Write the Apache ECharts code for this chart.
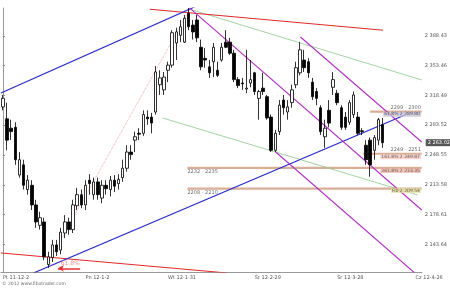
<!DOCTYPE html>
<html><head><meta charset="utf-8">
<script src="https://cdn.jsdelivr.net/npm/echarts@6/dist/echarts.min.js"></script>
<style>html,body{margin:0;padding:0;background:#fff}#c{width:450px;height:289px}</style>
</head><body><div id="c"></div>
<script>
// trading days (yy-m-d)
const dates = ['11-12-2','11-12-5','11-12-6','11-12-7','11-12-8','11-12-9','11-12-12','11-12-13','11-12-14','11-12-15','11-12-16','11-12-19','11-12-20','11-12-21','11-12-22','11-12-23','11-12-27','11-12-28','11-12-29','11-12-30',
'12-1-2','12-1-3','12-1-4','12-1-5','12-1-9','12-1-10','12-1-11','12-1-12','12-1-13','12-1-16','12-1-17','12-1-18','12-1-19','12-1-20','12-1-23','12-1-24','12-1-25','12-1-26','12-1-27','12-1-30','12-1-31',
'12-2-1','12-2-2','12-2-3','12-2-6','12-2-7','12-2-8','12-2-9','12-2-10','12-2-13','12-2-14','12-2-15','12-2-16','12-2-17','12-2-20','12-2-21','12-2-22','12-2-23','12-2-24','12-2-27','12-2-28','12-2-29',
'12-3-1','12-3-2','12-3-5','12-3-6','12-3-7','12-3-8','12-3-9','12-3-12','12-3-13','12-3-14','12-3-15','12-3-16','12-3-19','12-3-20','12-3-21','12-3-22','12-3-23','12-3-26','12-3-27','12-3-28','12-3-29','12-3-30',
'12-4-2','12-4-3','12-4-4','12-4-5','12-4-10','12-4-11','12-4-12','12-4-13','12-4-16','12-4-17','12-4-18','12-4-19','12-4-20','12-4-23','12-4-24','12-4-25','12-4-26','12-4-27'];
// x-axis tick labels
const tickLabels = {'11-12-2':'Pt 11-12-2','12-1-2':'Pn 12-1-2','12-1-31':'Wt 12-1-31','12-2-29':'Śr 12-2-29','12-3-28':'Śr 12-3-28','12-4-26':'Cz 12-4-26'};
// y-axis tick values
const yTicks = [2143.64,2178.61,2213.58,2248.55,2283.52,2318.49,2353.46,2388.43];
// OHLC as [open, close, low, high]
const ohlc = [
[2305,2315,2301,2319],[2291,2266,2254,2310],[2280,2276,2266,2290],[2281,2243,2237,2287],[2225,2243,2222,2252],
[2237,2213,2208,2243],[2208,2219,2202,2225],[2213,2190,2184,2219],[2190,2170,2163,2196],[2166,2175,2161,2182],
[2170,2129,2125,2175],[2120,2129,2116,2135],[2128,2143,2123,2149],[2143,2135,2130,2149],[2137,2158,2132,2163],
[2157,2170,2151,2178],[2170,2161,2155,2175],[2161,2190,2157,2196],[2189,2202,2184,2210],[2202,2190,2186,2208],
[2190,2213,2184,2219],[2219,2215,2202,2226],[2202,2217,2196,2222],[2217,2202,2196,2222],[2198,2213,2192,2219],
[2213,2209,2202,2219],[2208,2219,2200,2224],[2219,2212,2205,2225],[2215,2220,2208,2226],[2222,2233,2217,2243],
[2233,2252,2229,2260],[2252,2249,2243,2260],[2266,2270,2252,2276],[2274,2273,2266,2280],[2274,2296,2271,2301],
[2293,2291,2284,2301],[2293,2286,2274,2298],[2299,2346,2296,2353],[2331,2339,2319,2348],[2325,2340,2319,2346],
[2348,2354,2334,2358],[2354,2392,2351,2395],[2380,2393,2360,2398],[2389,2399,2381,2407],[2381,2409,2380,2413],
[2415,2399,2395,2421],[2401,2393,2384,2407],[2407,2386,2381,2413],[2375,2352,2348,2384],[2362,2360,2351,2374],
[2352,2345,2339,2360],[2358,2375,2340,2380],[2348,2342,2340,2358],[2360,2375,2358,2380],[2381,2375,2374,2395],
[2381,2368,2366,2386],[2368,2337,2334,2372],[2337,2330,2327,2340],[2333,2332,2325,2339],[2326,2327,2321,2372],
[2333,2337,2328,2360],[2345,2323,2319,2346],[2315,2323,2290,2325],[2327,2323,2319,2345],[2317,2292,2290,2319],
[2293,2254,2252,2296],[2254,2274,2252,2278],[2276,2307,2272,2313],[2313,2304,2296,2319],[2299,2305,2290,2313],
[2310,2325,2304,2331],[2331,2351,2327,2358],[2345,2372,2342,2381],[2360,2351,2346,2372],[2358,2345,2339,2362],
[2334,2317,2313,2339],[2323,2315,2307,2327],[2304,2276,2272,2307],[2270,2280,2257,2290],[2301,2286,2281,2313],
[2328,2337,2319,2346],[2321,2310,2307,2325],[2304,2281,2278,2307],[2293,2281,2278,2299],[2287,2310,2284,2313],
[2296,2319,2292,2323],[2293,2274,2272,2299],[2277,2276,2272,2280],[2260,2243,2237,2266],[2266,2237,2223,2269],
[2254,2269,2243,2272],[2266,2290,2260,2292],[2284,2263.02,2257,2292]
];
const lastPrice = 2263.02;
// trend lines: [[dayIndex, price],[dayIndex, price]]
const blueUpper = [[-0.5,2321.3],[46.4,2422.2]];
const blueLower = [[7.4,2110.1],[97.4,2295.5]];
const redUpper = [[35.6,2419.6],[92.1,2395]];
const redLower = [[-0.5,2133.6],[54.3,2110.1]];
const fiboDotted = [[11.05,2123],[45.2,2418.7]];
const greenUpper = [[45.9,2418.7],[101.5,2336.6]];
const greenLower = [[38.7,2292],[100.5,2201.6]];
const magentaA = [[45.2,2421.1],[101.5,2184]];
const magentaB = [[72.1,2387],[101.5,2263.8]];
const magentaC = [[66.1,2252.1],[99.8,2110.1]];
// horizontal zones: [startIndex, price, label]
const zones = [[89,2299.5,'2299 - 2300'],[87.3,2250,'2249 - 2251'],[44.7,2233.5,'2232 - 2235'],[44.7,2209,'2208 - 2210']];
// fib tags near the axis: [price, text, bg]
const fibTags = [[2296.5,'61.8% 2 289.80','#c8c0d8'],[2246.5,'161.8% 2 249.87','#f4c8c0'],[2230.5,'261.8% 2 233.35','#f0b8a8'],[2207,'Fib 2 209.54','#e8e0a0']];
const arrowFrom = [18.7,2115.6];
const arrowTo = [13.3,2115.6];
const arrowText = [16.3,2121.5,'61.8%'];

const fmt = v => { const s = v.toFixed(2); const p = s.split('.'); return p[0].replace(/\B(?=(\d{3})+(?!\d))/g,' ') + '.' + p[1]; };
const lineSeries = (data, color, width, type) => ({type:'line', xAxisIndex:1, yAxisIndex:0, data:data, showSymbol:false, symbol:'none', silent:true, animation:false, clip:true, lineStyle:{color:color, width:width, type:type||'solid'}, z:3});

const series = [];
series.push({type:'candlestick', xAxisIndex:0, yAxisIndex:0, data:ohlc, barWidth:3, animation:false,
  itemStyle:{color:'#ffffff', color0:'#000000', borderColor:'#000000', borderColor0:'#000000', borderWidth:0.8}, z:5,
  markLine:{silent:true, symbol:'none', animation:false, data:[{yAxis:lastPrice}], lineStyle:{color:'rgba(0,0,0,0)', width:0},
    label:{show:true, position:'end', formatter:fmt(lastPrice), color:'#fff', backgroundColor:'#555', fontSize:5, padding:[1,2], distance:4, fontFamily:'DejaVu Sans'}}});
zones.forEach(z => {
  series.push(lineSeries([[z[0],z[1]],[101.5,z[1]]], '#d9ae96', 2.2));
});
series.push(lineSeries(greenUpper,'#8cc88c',0.8));
series.push(lineSeries(greenLower,'#8cc88c',0.8));
series.push(lineSeries(fiboDotted,'#e89090',0.8,'dotted'));
series.push(lineSeries(redUpper,'#e02828',1));
series.push(lineSeries(redLower,'#e02828',1));
series.push(lineSeries(blueUpper,'#2828c8',1.2));
series.push(lineSeries(blueLower,'#2828c8',1.2));
series.push(lineSeries(magentaA,'#b030c0',1.1));
series.push(lineSeries(magentaB,'#b030c0',1.1));
series.push(lineSeries(magentaC,'#b030c0',1.1));
// arrow
series.push({type:'line', xAxisIndex:1, data:[], silent:true, animation:false,
  markLine:{silent:true, animation:false, symbol:['none','arrow'], symbolSize:[5,6],
    lineStyle:{color:'#e83030', width:1.5, type:'solid'}, label:{show:false},
    data:[[{coord:arrowFrom},{coord:arrowTo}]]}, z:6});
// text labels
const textPts = [];
zones.forEach((z,i) => {
  if (i < 2) textPts.push({value:[101.3, z[1]+1.6], label:{show:true, position:'left', formatter:z[2], color:'#444', fontSize:5, distance:0, align:'right', verticalAlign:'bottom'}});
  else textPts.push({value:[z[0], z[1]-1.8], label:{show:true, position:'right', formatter:z[2], color:'#444', fontSize:5, distance:0, align:'left', verticalAlign:'top'}});
});
fibTags.forEach(t => textPts.push({value:[101.3, t[0]], label:{show:true, position:'left', formatter:t[1], color:'#333', fontSize:4.5, distance:0, backgroundColor:t[2], padding:[0,1]}}));
textPts.push({value:[arrowText[0], arrowText[1]], label:{show:true, position:'inside', formatter:arrowText[2], color:'#f07070', fontSize:6}});
series.push({type:'scatter', xAxisIndex:1, data:textPts, symbolSize:0, silent:true, animation:false, z:8, clip:false,
  label:{fontFamily:'DejaVu Sans'}});

const chart = echarts.init(document.getElementById('c'), null, {renderer:'canvas'});
chart.setOption({
  animation:false,
  backgroundColor:'#ffffff',
  grid:{left:0, right:26, top:8, bottom:17, containLabel:false},
  xAxis:[
    {type:'category', data:dates, boundaryGap:true,
      axisLine:{lineStyle:{color:'#999', width:1}},
      axisTick:{alignWithLabel:true, length:2, lineStyle:{color:'#888'}, interval:(i,v)=>!!tickLabels[v]},
      axisLabel:{interval:(i,v)=>!!tickLabels[v], formatter:v=>tickLabels[v]||'', fontSize:5, color:'#555', align:'left', margin:3, fontFamily:'DejaVu Sans'},
      splitLine:{show:false}},
    {type:'value', min:-0.5, max:101.5, show:false}
  ],
  yAxis:[{type:'value', position:'right', min:2111.25, max:2421.05, scale:true,
    axisLine:{show:true, lineStyle:{color:'#999', width:1}},
    axisTick:{show:true, length:2, lineStyle:{color:'#888'}, customValues:yTicks},
    axisLabel:{show:true, customValues:yTicks, formatter:v=>fmt(v), fontSize:5, color:'#555', margin:3, fontFamily:'DejaVu Sans'},
    splitLine:{show:false}}],
  graphic:[{type:'text', left:2, top:281, style:{text:'© 2012 www.fibotrader.com', fontSize:4.5, fill:'#666', fontFamily:'DejaVu Sans'}}],
  series:series
});
</script></body></html>
